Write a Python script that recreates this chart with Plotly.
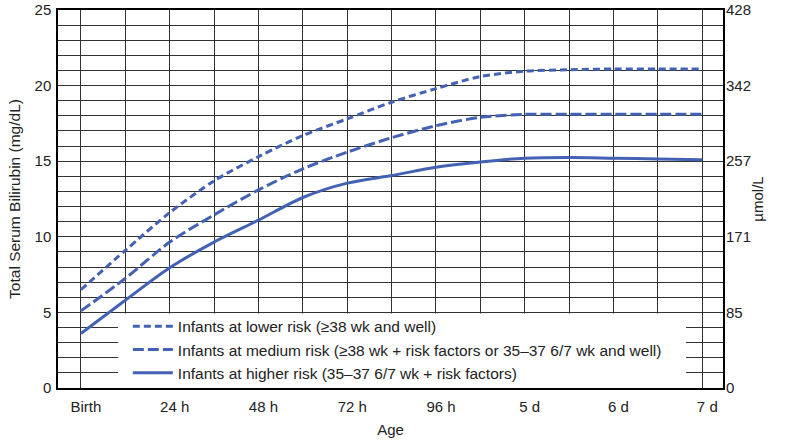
import plotly.graph_objects as go

# hours after birth
hours = [0, 12, 24, 36, 48, 60, 72, 84, 96, 108, 120, 132, 144, 156, 168]

lower_risk = [6.5, 9.1, 11.6, 13.7, 15.3, 16.7, 17.8, 18.9, 19.8, 20.6, 20.95, 21.05, 21.1, 21.1, 21.1]
medium_risk = [5.1, 7.25, 9.65, 11.45, 13.1, 14.5, 15.6, 16.55, 17.35, 17.9, 18.1, 18.1, 18.1, 18.1, 18.1]
higher_risk = [3.6, 5.8, 7.95, 9.65, 11.1, 12.6, 13.55, 14.05, 14.6, 14.95, 15.2, 15.25, 15.2, 15.15, 15.1]

series_names = [
    "Infants at lower risk (\u226538 wk and well)",
    "Infants at medium risk (\u226538 wk + risk factors or 35\u201337 6/7 wk and well)",
    "Infants at higher risk (35\u201337 6/7 wk + risk factors)",
]

x_tickvals = [0, 24, 48, 72, 96, 120, 144, 168]
x_ticktext = ["Birth", "24 h", "48 h", "72 h", "96 h", "5 d", "6 d", "7 d"]

y_tickvals = [0, 5, 10, 15, 20, 25]
umol_ticktext = ["0", "85", "171", "257", "342", "428"]

BLUE = "#4462B4"
GRID = "#333333"
FONT = "Liberation Sans, Arial, sans-serif"

fig = go.Figure()

fig.add_trace(go.Scatter(
    x=hours, y=lower_risk, mode="lines", name=series_names[0],
    line=dict(color=BLUE, width=3, dash="7px,4px", shape="spline", smoothing=0.8),
))
fig.add_trace(go.Scatter(
    x=hours, y=medium_risk, mode="lines", name=series_names[1],
    line=dict(color=BLUE, width=3, dash="11px,4px", shape="spline", smoothing=0.8),
))
fig.add_trace(go.Scatter(
    x=hours, y=higher_risk, mode="lines", name=series_names[2],
    line=dict(color=BLUE, width=3, shape="spline", smoothing=0.8),
))
# invisible point so the right-hand umol/L axis gets drawn
fig.add_trace(go.Scatter(
    x=[hours[0]], y=[0], yaxis="y2", mode="markers",
    marker=dict(opacity=0), showlegend=False, hoverinfo="skip",
))

# blank out the grid behind the legend
fig.add_shape(
    type="rect", xref="x", yref="y",
    x0=10, x1=163.6, y0=0, y1=4.93,
    fillcolor="white", line_width=0, layer="between",
)

fig.update_layout(
    width=787,
    height=441,
    margin=dict(l=58, r=64, t=10, b=53),
    paper_bgcolor="white",
    plot_bgcolor="white",
    font=dict(family=FONT, size=15, color="#222222"),
    showlegend=True,
    legend=dict(
        x=0.105, y=0.207, xanchor="left", yanchor="top",
        bgcolor="rgba(0,0,0,0)",
        font=dict(size=15.5),
        tracegroupgap=0,
        itemwidth=40,
    ),
    xaxis=dict(
        range=[-6.2, 173.6],
        tickvals=x_tickvals,
        ticktext=x_ticktext,
        ticklabelshift=5,
        ticklabelstandoff=4,
        showgrid=True, gridcolor=GRID, gridwidth=1,
        minor=dict(dtick=12, tick0=0, showgrid=True, gridcolor=GRID, gridwidth=1),
        showline=True, linecolor="black", linewidth=2, mirror=True,
        zeroline=False,
        ticks="",
        automargin=False,
        title=dict(text="Age", standoff=10, font=dict(size=15)),
        fixedrange=True,
    ),
    yaxis=dict(
        range=[0, 25],
        tickvals=y_tickvals,
        ticklabelstandoff=2,
        showgrid=True, gridcolor=GRID, gridwidth=1,
        minor=dict(dtick=1, tick0=0, showgrid=True, gridcolor=GRID, gridwidth=1),
        showline=True, linecolor="black", linewidth=1.5, mirror=True,
        zeroline=False,
        ticks="",
        automargin=False,
        title=dict(text="Total Serum Bilirubin (mg/dL)", standoff=10, font=dict(size=15.5)),
        fixedrange=True,
    ),
    yaxis2=dict(
        overlaying="y", side="right", anchor="x",
        range=[0, 25],
        tickvals=y_tickvals,
        ticktext=umol_ticktext,
        ticklabelstandoff=2,
        showgrid=False, zeroline=False, ticks="",
        automargin=False,
        title=dict(text="\u00b5mol/L", standoff=2, font=dict(size=15)),
        fixedrange=True,
    ),
)

# drop the browser's default 8px body margin so the figure sits at the page origin
fig.write_html(
    "out.html",
    config={"displayModeBar": False},
    post_script="document.body.style.margin = '0';",
)
